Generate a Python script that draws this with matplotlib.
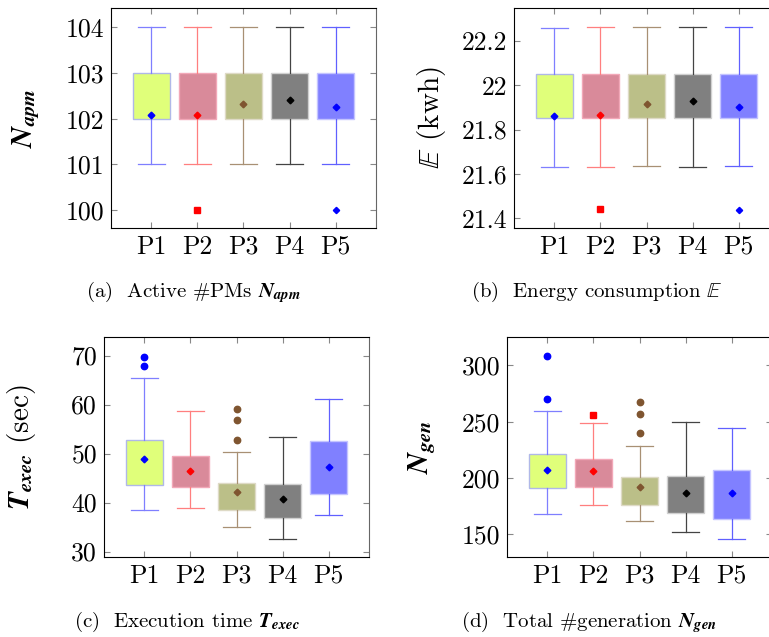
import numpy as np
import matplotlib
matplotlib.use("Agg")
import matplotlib.pyplot as plt

plt.rcParams['font.family'] = ['cmr10', 'DejaVu Serif']
plt.rcParams['mathtext.fontset'] = 'cm'
plt.rcParams['axes.formatter.use_mathtext'] = True

labels = ['P1', 'P2', 'P3', 'P4', 'P5']

# (a) active PMs
apm_lo = [101, 101, 101, 101, 101]
apm_q1 = [102, 102, 102, 102, 102]
apm_q3 = [103, 103, 103, 103, 103]
apm_hi = [104, 104, 104, 104, 104]
apm_mean = [102.07, 102.09, 102.33, 102.41, 102.26]
apm_fliers = [[], [100], [], [], [100]]

# (b) energy consumption
en_lo = [21.63, 21.63, 21.638, 21.63, 21.635]
en_q1 = [21.851, 21.851, 21.851, 21.851, 21.851]
en_q3 = [22.05, 22.05, 22.05, 22.052, 22.05]
en_hi = [22.257, 22.262, 22.262, 22.262, 22.262]
en_mean = [21.86, 21.867, 21.914, 21.93, 21.90]
en_fliers = [[], [21.44], [], [], [21.437]]

# (c) execution time
tx_lo = [38.4, 38.8, 35.1, 32.6, 37.4]
tx_q1 = [43.5, 43.2, 38.4, 36.9, 41.8]
tx_q3 = [52.8, 49.5, 44.1, 43.7, 52.5]
tx_hi = [65.4, 58.6, 50.4, 53.4, 61.1]
tx_mean = [48.9, 46.4, 42.1, 40.7, 47.3]
tx_fliers = [[69.8, 67.8], [], [59.1, 56.8, 52.8], [], []]

# (d) total generations
ng_lo = [167.8, 175.7, 161.8, 151.8, 145.6]
ng_q1 = [190.8, 192.0, 176.0, 168.9, 163.6]
ng_q3 = [221.0, 217.2, 200.6, 201.8, 207.1]
ng_hi = [259.2, 249.1, 228.7, 250.0, 244.1]
ng_mean = [207.1, 206.2, 191.7, 186.7, 186.7]
ng_fliers = [[308.3, 270.1], [256.2], [267.2, 257.1, 239.9], [], []]

fill_colors = ['#e0ff7a', '#d98a9a', '#bbbf88', '#808080', '#8080ff']
edge_colors = ['#b0b8e8', '#f2a8b8', '#dedac6', '#d0d0d0', '#c4c4ff']
line_colors = ['#7f7fff', '#ff7f7f', '#a89074', '#444444', '#6060ff']
dot_colors = ['#0000ff', '#ff0000', '#7f5530', '#000000', '#0000ff']
flier_marks = ['o', 's', 'o', 'D', 'D']
flier_sizes = [4.6, 4.6, 4.6, 3.2, 3.2]

W, H = 769, 637
fig = plt.figure(figsize=(W / 100, H / 100), dpi=100)


def panel(rect, lo, q1, q3, hi, mean, fliers, ylim, yticks, yticklabels,
          ylabel, ylabel_x, caption, cap_xy):
    ax = fig.add_axes(rect)
    for i in range(5):
        st = [dict(med=q1[i], q1=q1[i], q3=q3[i], whislo=lo[i], whishi=hi[i],
                   mean=mean[i], fliers=[])]
        ax.bxp(st, positions=[i + 1], widths=0.81, patch_artist=True,
               showmeans=True, showfliers=False,
               boxprops=dict(facecolor=fill_colors[i], edgecolor=edge_colors[i], linewidth=1.0),
               whiskerprops=dict(color=line_colors[i], linewidth=0.9),
               capprops=dict(color=line_colors[i], linewidth=0.9),
               capwidths=0.6,
               medianprops=dict(linewidth=0),
               meanprops=dict(marker='D', markersize=3.4, markerfacecolor=dot_colors[i],
                              markeredgecolor=dot_colors[i]))
        if fliers[i]:
            ax.plot([i + 1] * len(fliers[i]), fliers[i], linestyle='none',
                    marker=flier_marks[i], markersize=flier_sizes[i],
                    color=dot_colors[i])
    ax.set_xlim(0.12, 5.88)
    ax.set_ylim(*ylim)
    ax.set_xticks(range(1, 6))
    ax.set_xticklabels(labels, fontsize=18.5)
    ax.set_yticks(yticks)
    ax.set_yticklabels(yticklabels, fontsize=18.5)
    ax.tick_params(direction='in', top=True, right=True, length=4,
                   color='#888888', pad=5)
    for s in ['left', 'bottom', 'top']:
        ax.spines[s].set_color('black')
    ax.spines['right'].set_color('#666666')
    ax.set_ylabel(ylabel, fontsize=21, math_fontfamily='stix')
    ax.yaxis.set_label_coords(ylabel_x, 0.5)
    fig.text(cap_xy[0] / W, 1 - cap_xy[1] / H, caption, fontsize=15,
             ha='center', va='center', math_fontfamily='stix')
    return ax


w = 265 / W
h = 220 / H
panel([111 / W, 1 - 228 / H, w, h], apm_lo, apm_q1, apm_q3, apm_hi, apm_mean,
      apm_fliers, (99.61, 104.42), [100, 101, 102, 103, 104],
      ['100', '101', '102', '103', '104'],
      r'$\mathbfit{N}_{\mathbfit{apm}}$', -0.26,
      r'(a)  Active #PMs $\mathbfit{N}_{\mathbfit{apm}}$', (193, 292))

panel([514 / W, 1 - 228 / H, w, h], en_lo, en_q1, en_q3, en_hi, en_mean,
      en_fliers, (21.356, 22.349), [21.4, 21.6, 21.8, 22.0, 22.2],
      ['21.4', '21.6', '21.8', '22', '22.2'],
      r'$\mathbb{E}$ (kwh)', -0.25,
      r'(b)  Energy consumption $\mathbb{E}$', (597, 292))

panel([104 / W, 1 - 557 / H, w, h], tx_lo, tx_q1, tx_q3, tx_hi, tx_mean,
      tx_fliers, (28.9, 73.8), [30, 40, 50, 60, 70],
      ['30', '40', '50', '60', '70'],
      r'$\mathbfit{T}_{\mathbfit{exec}}$ (sec)', -0.25,
      r'(c)  Execution time $\mathbfit{T}_{\mathbfit{exec}}$', (187, 622))

panel([507 / W, 1 - 557 / H, w, h], ng_lo, ng_q1, ng_q3, ng_hi, ng_mean,
      ng_fliers, (129.9, 325.1), [150, 200, 250, 300],
      ['150', '200', '250', '300'],
      r'$\mathbfit{N}_{\mathbfit{gen}}$', -0.26,
      r'(d)  Total #generation $\mathbfit{N}_{\mathbfit{gen}}$', (589, 622))

fig.savefig('out.png', dpi=100)
